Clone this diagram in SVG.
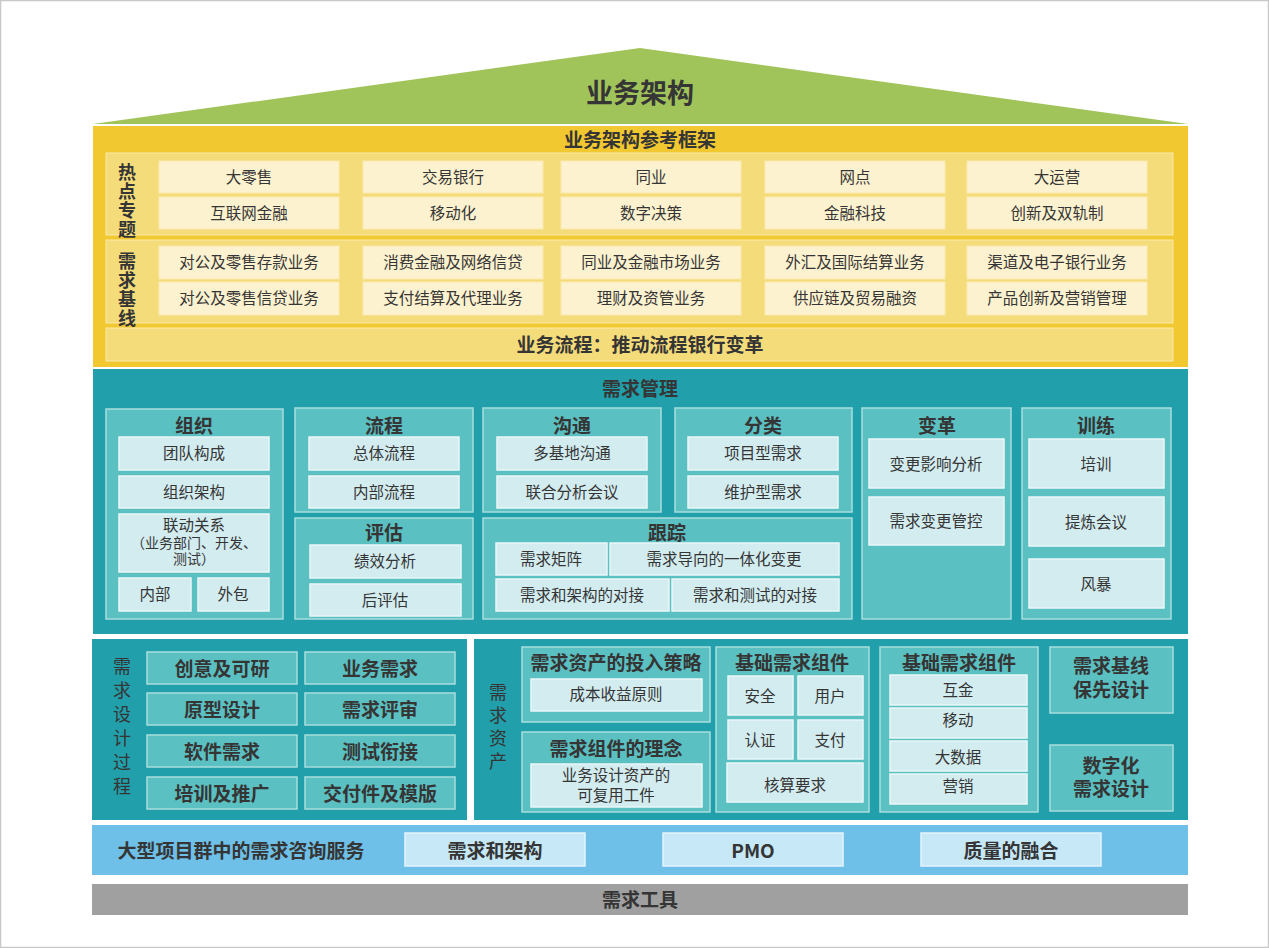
<svg xmlns="http://www.w3.org/2000/svg" width="1269" height="948" viewBox="0 0 1269 948">
<style>
text{font-family:"Noto Sans CJK SC","Noto Sans",sans-serif;fill:#353535;text-anchor:middle;dominant-baseline:central}
text.m{font-family:"Liberation Sans","Noto Sans CJK SC",sans-serif}
.b{font-weight:bold}
.s19{font-size:19px}
.s16{font-size:15.5px}
.v{writing-mode:vertical-rl;dominant-baseline:auto;font-size:18px}
.yc{fill:#FDF2CF;stroke:#FBEAB0;stroke-width:1}
.yp{fill:#F5DC7A;stroke:#F9E9A8;stroke-width:1}
.tp{fill:#5BC0C2;stroke:#A9DDDE;stroke-width:1.5}
.ti{fill:#D3ECF0;stroke:#EAF6F7;stroke-width:1.5}
.tb{fill:#21A0AB}
.bi{fill:#C6E8F7;stroke:#E4F4FC;stroke-width:1.5}
</style>
<rect x="0.5" y="0.5" width="1268" height="947" fill="#FFFFFF" stroke="#C8C8C8" stroke-width="1.5"/>

<g id="roof">
<polygon points="93,124 640,48 1188,124" fill="#A1C45A"/>
<text x="640" y="91" class="b" style="font-size:27px">业务架构</text>
</g>

<g id="ref-framework">
<rect x="93" y="126" width="1095" height="241" fill="#F2C831"/>
<text x="640" y="138" class="b s19">业务架构参考框架</text>
<g id="hot-topics">
<rect x="106" y="153" width="1067" height="82" class="yp"/>
<text x="127" y="201" class="b v" style="letter-spacing:1px">热点专题</text>
<rect x="159" y="161" width="180" height="32" class="yc"/><text x="249" y="176" class="s16">大零售</text>
<rect x="363" y="161" width="180" height="32" class="yc"/><text x="453" y="176" class="s16">交易银行</text>
<rect x="561" y="161" width="180" height="32" class="yc"/><text x="651" y="176" class="s16">同业</text>
<rect x="765" y="161" width="180" height="32" class="yc"/><text x="855" y="176" class="s16">网点</text>
<rect x="967" y="161" width="180" height="32" class="yc"/><text x="1057" y="176" class="s16">大运营</text>
<rect x="159" y="197" width="180" height="32" class="yc"/><text x="249" y="212" class="s16">互联网金融</text>
<rect x="363" y="197" width="180" height="32" class="yc"/><text x="453" y="212" class="s16">移动化</text>
<rect x="561" y="197" width="180" height="32" class="yc"/><text x="651" y="212" class="s16">数字决策</text>
<rect x="765" y="197" width="180" height="32" class="yc"/><text x="855" y="212" class="s16">金融科技</text>
<rect x="967" y="197" width="180" height="32" class="yc"/><text x="1057" y="212" class="s16">创新及双轨制</text>
</g>
<g id="baseline">
<rect x="106" y="240" width="1067" height="83" class="yp"/>
<text x="127" y="290" class="b v" style="letter-spacing:1px">需求基线</text>
<rect x="159" y="246" width="180" height="33" class="yc"/><text x="249" y="261" class="s16">对公及零售存款业务</text>
<rect x="363" y="246" width="180" height="33" class="yc"/><text x="453" y="261" class="s16">消费金融及网络信贷</text>
<rect x="561" y="246" width="180" height="33" class="yc"/><text x="651" y="261" class="s16">同业及金融市场业务</text>
<rect x="765" y="246" width="180" height="33" class="yc"/><text x="855" y="261" class="s16">外汇及国际结算业务</text>
<rect x="967" y="246" width="180" height="33" class="yc"/><text x="1057" y="261" class="s16">渠道及电子银行业务</text>
<rect x="159" y="282" width="180" height="33" class="yc"/><text x="249" y="297" class="s16">对公及零售信贷业务</text>
<rect x="363" y="282" width="180" height="33" class="yc"/><text x="453" y="297" class="s16">支付结算及代理业务</text>
<rect x="561" y="282" width="180" height="33" class="yc"/><text x="651" y="297" class="s16">理财及资管业务</text>
<rect x="765" y="282" width="180" height="33" class="yc"/><text x="855" y="297" class="s16">供应链及贸易融资</text>
<rect x="967" y="282" width="180" height="33" class="yc"/><text x="1057" y="297" class="s16">产品创新及营销管理</text>
</g>
<g id="process-bar">
<rect x="106" y="328" width="1067" height="33" class="yp"/>
<text x="640" y="343" class="b s19">业务流程：推动流程银行变革</text>
</g>
</g>

<g id="req-mgmt">
<rect x="93" y="369" width="1095" height="265" class="tb"/>
<text x="640" y="387" class="b s19">需求管理</text>
<g id="org">
<rect x="106" y="409" width="177" height="210" class="tp"/>
<text x="194" y="424" class="b s19">组织</text>
<rect x="119" y="437" width="150" height="33" class="ti"/><text x="194" y="452" class="s16">团队构成</text>
<rect x="119" y="476" width="150" height="32" class="ti"/><text x="194" y="491" class="s16">组织架构</text>
<rect x="119" y="514" width="150" height="58" class="ti"/>
<text x="194" y="525" class="s16 m">联动关系<tspan x="194" dy="18" style="font-size:14px">（业务部门、开发、</tspan><tspan x="194" dy="16" style="font-size:14px">测试）</tspan></text>
<rect x="119" y="578" width="72" height="33" class="ti"/><text x="155" y="593" class="s16">内部</text>
<rect x="198" y="578" width="71" height="33" class="ti"/><text x="233" y="593" class="s16">外包</text>
</g>
<g id="flow">
<rect x="295" y="408" width="178" height="104" class="tp"/>
<text x="384" y="424" class="b s19">流程</text>
<rect x="309" y="437" width="150" height="33" class="ti"/><text x="384" y="452" class="s16">总体流程</text>
<rect x="309" y="476" width="150" height="32" class="ti"/><text x="384" y="491" class="s16">内部流程</text>
</g>
<g id="eval">
<rect x="295" y="518" width="178" height="101" class="tp"/>
<text x="384" y="531" class="b s19">评估</text>
<rect x="310" y="545" width="151" height="33" class="ti"/><text x="385" y="560" class="s16">绩效分析</text>
<rect x="310" y="584" width="151" height="32" class="ti"/><text x="385" y="599" class="s16">后评估</text>
</g>
<g id="comm">
<rect x="483" y="408" width="178" height="104" class="tp"/>
<text x="572" y="424" class="b s19">沟通</text>
<rect x="497" y="437" width="150" height="33" class="ti"/><text x="572" y="452" class="s16">多基地沟通</text>
<rect x="497" y="476" width="150" height="32" class="ti"/><text x="572" y="491" class="s16">联合分析会议</text>
</g>
<g id="classify">
<rect x="675" y="408" width="177" height="104" class="tp"/>
<text x="763" y="424" class="b s19">分类</text>
<rect x="688" y="437" width="150" height="33" class="ti"/><text x="763" y="452" class="s16">项目型需求</text>
<rect x="688" y="476" width="150" height="32" class="ti"/><text x="763" y="491" class="s16">维护型需求</text>
</g>
<g id="track">
<rect x="483" y="518" width="369" height="101" class="tp"/>
<text x="667" y="531" class="b s19">跟踪</text>
<rect x="496" y="543" width="111" height="32" class="ti"/><text x="551" y="558" class="s16">需求矩阵</text>
<rect x="610" y="543" width="229" height="32" class="ti"/><text x="724" y="558" class="s16">需求导向的一体化变更</text>
<rect x="496" y="579" width="173" height="32" class="ti"/><text x="582" y="594" class="s16">需求和架构的对接</text>
<rect x="672" y="579" width="167" height="32" class="ti"/><text x="755" y="594" class="s16">需求和测试的对接</text>
</g>
<g id="change">
<rect x="862" y="408" width="149" height="211" class="tp"/>
<text x="937" y="424" class="b s19">变革</text>
<rect x="869" y="439" width="135" height="49" class="ti"/><text x="936" y="463" class="s16">变更影响分析</text>
<rect x="869" y="497" width="135" height="48" class="ti"/><text x="936" y="520" class="s16">需求变更管控</text>
</g>
<g id="train">
<rect x="1022" y="408" width="149" height="211" class="tp"/>
<text x="1096" y="424" class="b s19">训练</text>
<rect x="1029" y="439" width="135" height="49" class="ti"/><text x="1096" y="463" class="s16">培训</text>
<rect x="1029" y="497" width="135" height="49" class="ti"/><text x="1096" y="521" class="s16">提炼会议</text>
<rect x="1029" y="559" width="135" height="49" class="ti"/><text x="1096" y="583" class="s16">风暴</text>
</g>
</g>

<g id="design-process">
<rect x="92" y="639" width="375" height="181" class="tb"/>
<text x="122" y="729" class="v" style="letter-spacing:6px">需求设计过程</text>
<rect x="147" y="652" width="150" height="32" class="tp"/><text x="222" y="667" class="b s19">创意及可研</text>
<rect x="305" y="652" width="150" height="32" class="tp"/><text x="380" y="667" class="b s19">业务需求</text>
<rect x="147" y="693" width="150" height="32" class="tp"/><text x="222" y="708" class="b s19">原型设计</text>
<rect x="305" y="693" width="150" height="32" class="tp"/><text x="380" y="708" class="b s19">需求评审</text>
<rect x="147" y="735" width="150" height="32" class="tp"/><text x="222" y="750" class="b s19">软件需求</text>
<rect x="305" y="735" width="150" height="32" class="tp"/><text x="380" y="750" class="b s19">测试衔接</text>
<rect x="147" y="777" width="150" height="32" class="tp"/><text x="222" y="792" class="b s19">培训及推广</text>
<rect x="305" y="777" width="150" height="32" class="tp"/><text x="380" y="792" class="b s19">交付件及模版</text>
</g>

<g id="req-assets">
<rect x="474" y="639" width="714" height="181" class="tb"/>
<text x="498" y="729" class="v" style="letter-spacing:5px">需求资产</text>
<g id="invest">
<rect x="522" y="647" width="188" height="75" class="tp"/>
<text x="616" y="661" class="b s19">需求资产的投入策略</text>
<rect x="531" y="679" width="171" height="32" class="ti"/><text x="616" y="693" class="s16">成本收益原则</text>
</g>
<g id="concept">
<rect x="522" y="732" width="188" height="80" class="tp"/>
<text x="616" y="747" class="b s19">需求组件的理念</text>
<rect x="531" y="764" width="171" height="43" class="ti"/>
<text x="616" y="775" class="s16 m">业务设计资产的<tspan x="616" dy="20">可复用工件</tspan></text>
</g>
<g id="basic1">
<rect x="716" y="647" width="153" height="165" class="tp"/>
<text x="792" y="661" class="b s19">基础需求组件</text>
<rect x="728" y="676" width="65" height="39" class="ti"/><text x="760" y="695" class="s16">安全</text>
<rect x="798" y="676" width="65" height="39" class="ti"/><text x="830" y="695" class="s16">用户</text>
<rect x="728" y="720" width="65" height="39" class="ti"/><text x="760" y="739" class="s16">认证</text>
<rect x="798" y="720" width="65" height="39" class="ti"/><text x="830" y="739" class="s16">支付</text>
<rect x="727" y="763" width="136" height="39" class="ti"/><text x="795" y="784" class="s16">核算要求</text>
</g>
<g id="basic2">
<rect x="880" y="647" width="158" height="165" class="tp"/>
<text x="959" y="661" class="b s19">基础需求组件</text>
<rect x="890" y="675" width="137" height="30" class="ti"/><text x="958" y="689" class="s16">互金</text>
<rect x="890" y="708" width="137" height="30" class="ti"/><text x="958" y="719" class="s16">移动</text>
<rect x="890" y="741" width="137" height="30" class="ti"/><text x="958" y="756" class="s16">大数据</text>
<rect x="890" y="774" width="137" height="30" class="ti"/><text x="958" y="785" class="s16">营销</text>
</g>
<g id="baseline-first">
<rect x="1050" y="647" width="123" height="66" class="tp"/>
<text x="1111" y="666" class="b s19 m">需求基线<tspan x="1111" dy="24">保先设计</tspan></text>
</g>
<g id="digital">
<rect x="1050" y="745" width="123" height="66" class="tp"/>
<text x="1111" y="766" class="b s19 m">数字化<tspan x="1111" dy="23">需求设计</tspan></text>
</g>
</g>

<g id="consulting">
<rect x="92" y="825" width="1096" height="50" fill="#6EC0E8"/>
<text x="241" y="849" class="b s19">大型项目群中的需求咨询服务</text>
<rect x="405" y="833" width="180" height="33" class="bi"/><text x="495" y="849" class="b s19">需求和架构</text>
<rect x="663" y="833" width="180" height="33" class="bi"/><text x="753" y="849" class="b s19">PMO</text>
<rect x="921" y="833" width="180" height="33" class="bi"/><text x="1011" y="849" class="b s19">质量的融合</text>
</g>

<g id="tools">
<rect x="92" y="884" width="1096" height="31" fill="#A0A0A0"/>
<text x="640" y="898" class="b s19">需求工具</text>
</g>
<g id="connectors"></g>
</svg>
